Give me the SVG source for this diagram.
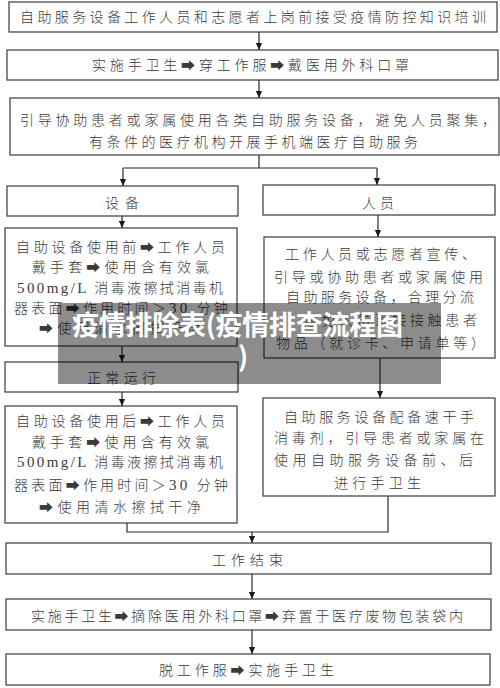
<svg xmlns="http://www.w3.org/2000/svg" width="500" height="688" viewBox="0 0 500 688">
<style>
.box{fill:#fff;stroke:#3a3a3a;stroke-width:1.2}
.t{font-family:"Noto Sans CJK SC","DejaVu Sans",sans-serif;font-size:14px;font-weight:300;fill:#3a3a3a}
.l{font-family:"Liberation Serif","Noto Sans CJK SC",serif;font-size:15px;font-weight:400}
.c{fill:none;stroke:#2a2a2a;stroke-width:1.2}
.wm{font-family:"Noto Sans CJK SC","DejaVu Sans",sans-serif;font-size:27px;font-weight:700;fill:#fff}
</style>
<defs>
<marker id="ah" viewBox="0 0 8 8" refX="8" refY="4" markerWidth="7" markerHeight="7" markerUnits="userSpaceOnUse" orient="auto">
<path d="M0,0.5 L8,4 L0,7.5 z" fill="#1a1a1a"/>
</marker>
</defs>
<rect width="500" height="688" fill="#fff"/>
<g id="connectors">
<line class="c" x1="259" y1="32" x2="259" y2="50" marker-end="url(#ah)"/>
<line class="c" x1="259" y1="80" x2="259" y2="98" marker-end="url(#ah)"/>
<polyline class="c" points="259,155 259,168"/>
<polyline class="c" points="123,168 377,168"/>
<line class="c" x1="123" y1="168" x2="123" y2="186" marker-end="url(#ah)"/>
<line class="c" x1="377" y1="168" x2="377" y2="185" marker-end="url(#ah)"/>
<line class="c" x1="122" y1="216" x2="122" y2="228" marker-end="url(#ah)"/>
<line class="c" x1="378" y1="215" x2="378" y2="237" marker-end="url(#ah)"/>
<line class="c" x1="122" y1="346" x2="122" y2="362" marker-end="url(#ah)"/>
<line class="c" x1="380" y1="358" x2="380" y2="398" marker-end="url(#ah)"/>
<line class="c" x1="122" y1="392" x2="122" y2="406" marker-end="url(#ah)"/>
<polyline class="c" points="127,523 127,532 388,532 388,496"/>
<line class="c" x1="252" y1="532" x2="252" y2="543" marker-end="url(#ah)"/>
<line class="c" x1="252" y1="574" x2="252" y2="599" marker-end="url(#ah)"/>
<line class="c" x1="252" y1="630" x2="252" y2="654" marker-end="url(#ah)"/>
</g>
<g id="n1"><rect class="box" x="9" y="2" width="488" height="30"/>
<text class="t" x="20" y="22" textLength="466" lengthAdjust="spacing">自助服务设备工作人员和志愿者上岗前接受疫情防控知识培训</text></g>
<g id="n2"><rect class="box" x="7" y="50" width="491" height="30"/>
<text class="t" x="92" y="70" textLength="317" lengthAdjust="spacing">实施手卫生➡穿工作服➡戴医用外科口罩</text></g>
<g id="n3"><rect class="box" x="10" y="98" width="489" height="57"/>
<text class="t" x="20" y="125" textLength="476" lengthAdjust="spacing">引导协助患者或家属使用各类自助服务设备，避免人员聚集，</text>
<text class="t" x="89" y="147" textLength="329" lengthAdjust="spacing">有条件的医疗机构开展手机端医疗自助服务</text></g>
<g id="n4"><rect class="box" x="7" y="186" width="231" height="30"/>
<text class="t" x="105" y="208" textLength="34" lengthAdjust="spacing">设备</text></g>
<g id="n5"><rect class="box" x="5" y="228" width="232" height="118"/>
<text class="t" x="16" y="252" textLength="209" lengthAdjust="spacing">自助设备使用前➡工作人员</text>
<text class="t" x="32" y="272" textLength="177" lengthAdjust="spacing">戴手套➡使用含有效氯</text>
<text class="t" x="17" y="293" textLength="206" lengthAdjust="spacing"><tspan class="l">500mg/L</tspan> 消毒液擦拭消毒机</text>
<text class="t" x="14" y="313" textLength="214" lengthAdjust="spacing">器表面➡作用时间＞<tspan class="l">30</tspan> 分钟</text>
<text class="t" x="39" y="333" textLength="162" lengthAdjust="spacing">➡使用清水擦拭干净</text></g>
<g id="n6"><rect class="box" x="5" y="362" width="233" height="30"/>
<text class="t" x="87" y="383" textLength="69" lengthAdjust="spacing">正常运行</text></g>
<g id="n7"><rect class="box" x="5" y="406" width="232" height="117"/>
<text class="t" x="16" y="426" textLength="209" lengthAdjust="spacing">自助设备使用后➡工作人员</text>
<text class="t" x="32" y="447" textLength="177" lengthAdjust="spacing">戴手套➡使用含有效氯</text>
<text class="t" x="17" y="467" textLength="206" lengthAdjust="spacing"><tspan class="l">500mg/L</tspan> 消毒液擦拭消毒机</text>
<text class="t" x="14" y="490" textLength="214" lengthAdjust="spacing">器表面➡作用时间＞<tspan class="l">30</tspan> 分钟</text>
<text class="t" x="39" y="512" textLength="162" lengthAdjust="spacing">➡使用清水擦拭干净</text></g>
<g id="n8"><rect class="box" x="263" y="185" width="232" height="30"/>
<text class="t" x="362" y="208" textLength="32" lengthAdjust="spacing">人员</text></g>
<g id="n9"><rect class="box" x="264" y="237" width="231" height="121"/>
<text class="t" x="285" y="259" textLength="191" lengthAdjust="spacing">工作人员或志愿者宣传、</text>
<text class="t" x="274" y="282" textLength="209" lengthAdjust="spacing">引导或协助患者或家属使用</text>
<text class="t" x="286" y="302" textLength="188" lengthAdjust="spacing">自助服务设备，合理分流</text>
<text class="t" x="286" y="325" textLength="191" lengthAdjust="spacing">，避免人员直接接触患者</text>
<text class="t" x="276" y="348" textLength="209" lengthAdjust="spacing">物品（就诊卡、申请单等）</text></g>
<g id="n10"><rect class="box" x="263" y="398" width="232" height="98"/>
<text class="t" x="284" y="422" textLength="190" lengthAdjust="spacing">自助服务设备配备速干手</text>
<text class="t" x="274" y="443" textLength="210" lengthAdjust="spacing">消毒剂，引导患者或家属在</text>
<text class="t" x="274" y="465" textLength="199" lengthAdjust="spacing">使用自助服务设备前、后</text>
<text class="t" x="334" y="488" textLength="87" lengthAdjust="spacing">进行手卫生</text></g>
<g id="n11"><rect class="box" x="6" y="543" width="485" height="31"/>
<text class="t" x="212" y="565" textLength="71" lengthAdjust="spacing">工作结束</text></g>
<g id="n12"><rect class="box" x="6" y="599" width="485" height="31"/>
<text class="t" x="31" y="621" textLength="432" lengthAdjust="spacing">实施手卫生➡摘除医用外科口罩➡弃置于医疗废物包装袋内</text></g>
<g id="n13"><rect class="box" x="6" y="654" width="484" height="31"/>
<text class="t" x="159" y="675" textLength="175" lengthAdjust="spacing">脱工作服➡实施手卫生</text></g>
<g id="watermark">
<rect x="58" y="303" width="383" height="81" fill="#000" fill-opacity="0.45"/>
<text class="wm" x="72" y="335" textLength="331" lengthAdjust="spacing">疫情排除表(疫情排查流程图</text>
<text class="wm" x="238" y="367">)</text>
</g>
</svg>
